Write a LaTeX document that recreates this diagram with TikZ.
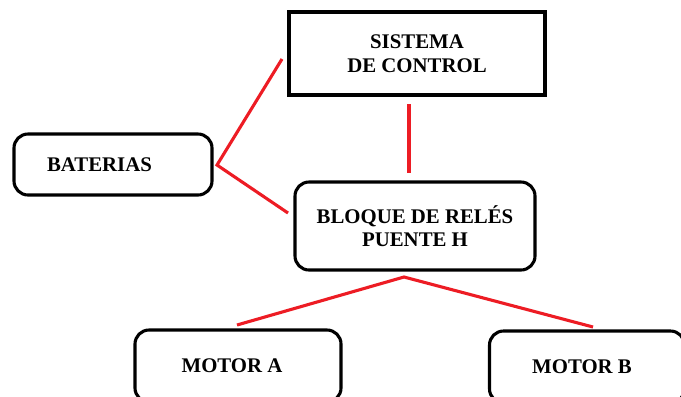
\documentclass[tikz,border=0pt]{standalone}
\usepackage{fontspec}
\setmainfont{Liberation Serif}
\definecolor{linkred}{RGB}{237,28,36}

\begin{document}
\begin{tikzpicture}[x=0.025cm,y=-0.025cm,
  box/.style={draw, line width=2.2pt, align=center, inner sep=0pt,
    font=\fontsize{14.8}{16.8}\selectfont\bfseries},
  roundbox/.style={box, rounded corners=14*0.025cm},
  link/.style={draw=linkred, line width=2.2pt}]
\useasboundingbox (0,0) rectangle (681,396);
% boxes
\node[box, line width=2.6pt, minimum width=256*0.025cm, minimum height=83*0.025cm] (ctrl) at (417,53.5) {SISTEMA\\DE CONTROL};
\node[roundbox, minimum width=198*0.025cm, minimum height=61*0.025cm,
  text width=132*0.025cm, inner xsep=33*0.025cm, align=left] (bat) at (113,164.5) {BATERIAS};
\node[roundbox, minimum width=240*0.025cm, minimum height=88*0.025cm] (bloq) at (415,226) {BLOQUE DE REL\'ES\\PUENTE H};
\node[roundbox, minimum width=206*0.025cm, minimum height=72*0.025cm] (motA) at (238,366) {\hspace*{-0.3cm}MOTOR A};
\node[roundbox, minimum width=195*0.025cm, minimum height=72*0.025cm] (motB) at (587,367) {\hspace*{-0.25cm}MOTOR B};
% free ends of the red lines
\coordinate (ctrlL) at (282,59);
\coordinate (batJ) at (217,165);
\coordinate (bloqL) at (288,213);
\coordinate (ctrlS) at (409,104);
\coordinate (bloqN) at (409,173);
\coordinate (bloqS) at (404,277);
\coordinate (motAN) at (237,325);
\coordinate (motBN) at (593,327);
% red lines
\draw[link] (ctrlL) -- (batJ) -- (bloqL);
\draw[link] (ctrlS) -- (bloqN);
\draw[link] (motAN) -- (bloqS) -- (motBN);
\end{tikzpicture}
\end{document}
